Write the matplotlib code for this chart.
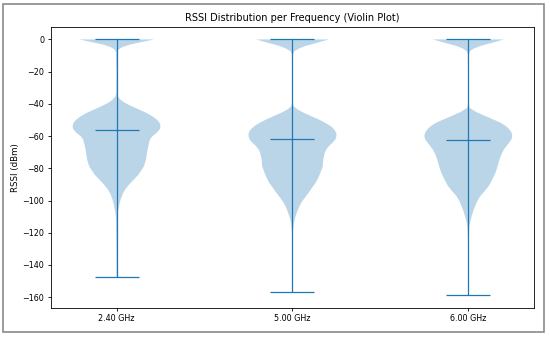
import numpy as np
import matplotlib
matplotlib.use("Agg")
import matplotlib.pyplot as plt
from matplotlib.patches import Rectangle

categories = ["2.40 GHz", "5.00 GHz", "6.00 GHz"]
means = [-56.1, -62.1, -62.7]
mins = [-147.4, -157.0, -158.6]
maxs = [0.0, 0.0, 0.0]

# density profiles (RSSI level, relative density)
levels_24 = [0, -1.5, -3.1, -4.7, -6.2, -8, -20, -33, -35.2, -37.5, -39.3, -41.5, -43.5,
             -45.5, -47.6, -49.7, -51.7, -53.8, -55.9, -58, -60, -62, -64.2, -67,
             -70.4, -74.5, -78.7, -80.7, -84, -87, -90, -93.2, -96, -99.4, -102.5,
             -105.6, -108.5, -111.8, -130, -147.4]
dens_24 = [36.7, 26, 14, 6, 2, 0.6, 0.3, 0.4, 1, 4, 8, 15, 22,
           29, 35, 39.5, 42.3, 43.3, 42.5, 39.5, 35.5, 33, 32, 31,
           30, 29, 27, 25, 21.5, 17, 12.5, 8.5, 6, 4, 2.7,
           1.7, 1, 0.5, 0.3, 0.2]
levels_50 = [0, -2, -4.1, -5.8, -7.3, -9, -25, -39, -41.4, -43.5, -45.5, -47.6, -49.7,
             -51.8, -53.8, -56, -58, -60, -62.1, -64.2, -66.3, -68.3, -70.4, -74.5,
             -78.7, -82.8, -86, -89, -92, -95.2, -98.3, -101.4, -104.5, -107.6,
             -110.8, -113.9, -120, -140, -157]
dens_50 = [36, 25, 12.7, 6, 2, 0.6, 0.3, 0.4, 1, 5, 11, 18.5, 26,
           32.5, 37.7, 41.5, 43.3, 43.5, 42.5, 39.5, 36, 33.5, 32, 30.5,
           30, 27.7, 25.5, 23, 19.5, 16, 12.2, 8.7, 6.2, 4.3,
           2.6, 1.3, 0.5, 0.3, 0.2]
levels_60 = [0, -2, -4.1, -5.8, -7.3, -9, -25, -40, -42.4, -45, -47.6, -49.7, -51.7,
             -53.8, -55.9, -58, -60, -62.1, -64.2, -66.3, -68.3, -71.4, -74.5, -78.7,
             -82.8, -87, -91.1, -94.2, -97.3, -100.4, -103.5, -106.6, -109.7,
             -112.8, -115.9, -122, -140, -158.6]
dens_60 = [35, 24, 11.7, 5, 1.7, 0.6, 0.3, 0.4, 1, 7.5, 16.7, 24.5, 31.7,
           37, 40.5, 42.7, 43.3, 42.5, 40, 37.5, 35, 32.5, 30.7, 28.8,
           26.7, 23.5, 20, 16, 11.7, 8.8, 6.7, 4.8, 3.3,
           2, 1, 0.5, 0.3, 0.2]

profiles = [(levels_24, dens_24), (levels_50, dens_50), (levels_60, dens_60)]

fig = plt.figure(figsize=(5.5, 3.37), dpi=100)
ax = fig.add_axes([0.092, 0.087, 0.8795, 0.834])

vpstats = []
for (lv, dn), m, lo, hi in zip(profiles, means, mins, maxs):
    vpstats.append(dict(coords=np.array(lv, float), vals=np.array(dn, float),
                        mean=m, median=np.nan, min=lo, max=hi))

parts = ax.violin(vpstats, positions=[1, 2, 3], widths=0.5, showmeans=True,
                  showextrema=True, showmedians=False)
for key in ("cmeans", "cmins", "cmaxes", "cbars"):
    parts[key].set_linewidth(0.9)

ax.set_xticks([1, 2, 3])
ax.set_xticklabels(categories)
ax.set_ylabel("RSSI (dBm)", fontsize=6.2, labelpad=2)
ax.set_title("RSSI Distribution per Frequency (Violin Plot)", fontsize=7, pad=4)
ax.tick_params(labelsize=5.8, length=2.5, width=0.6, pad=2)
for s in ax.spines.values():
    s.set_linewidth(0.6)
ax.set_yticks(np.arange(-160, 1, 20))

fig.patches.append(Rectangle((3 / 550, 5 / 337), 541 / 550, 328 / 337,
                             transform=fig.transFigure, fill=False,
                             edgecolor="#8a8a8a", linewidth=1.2))

fig.savefig("out.png", dpi=100)
